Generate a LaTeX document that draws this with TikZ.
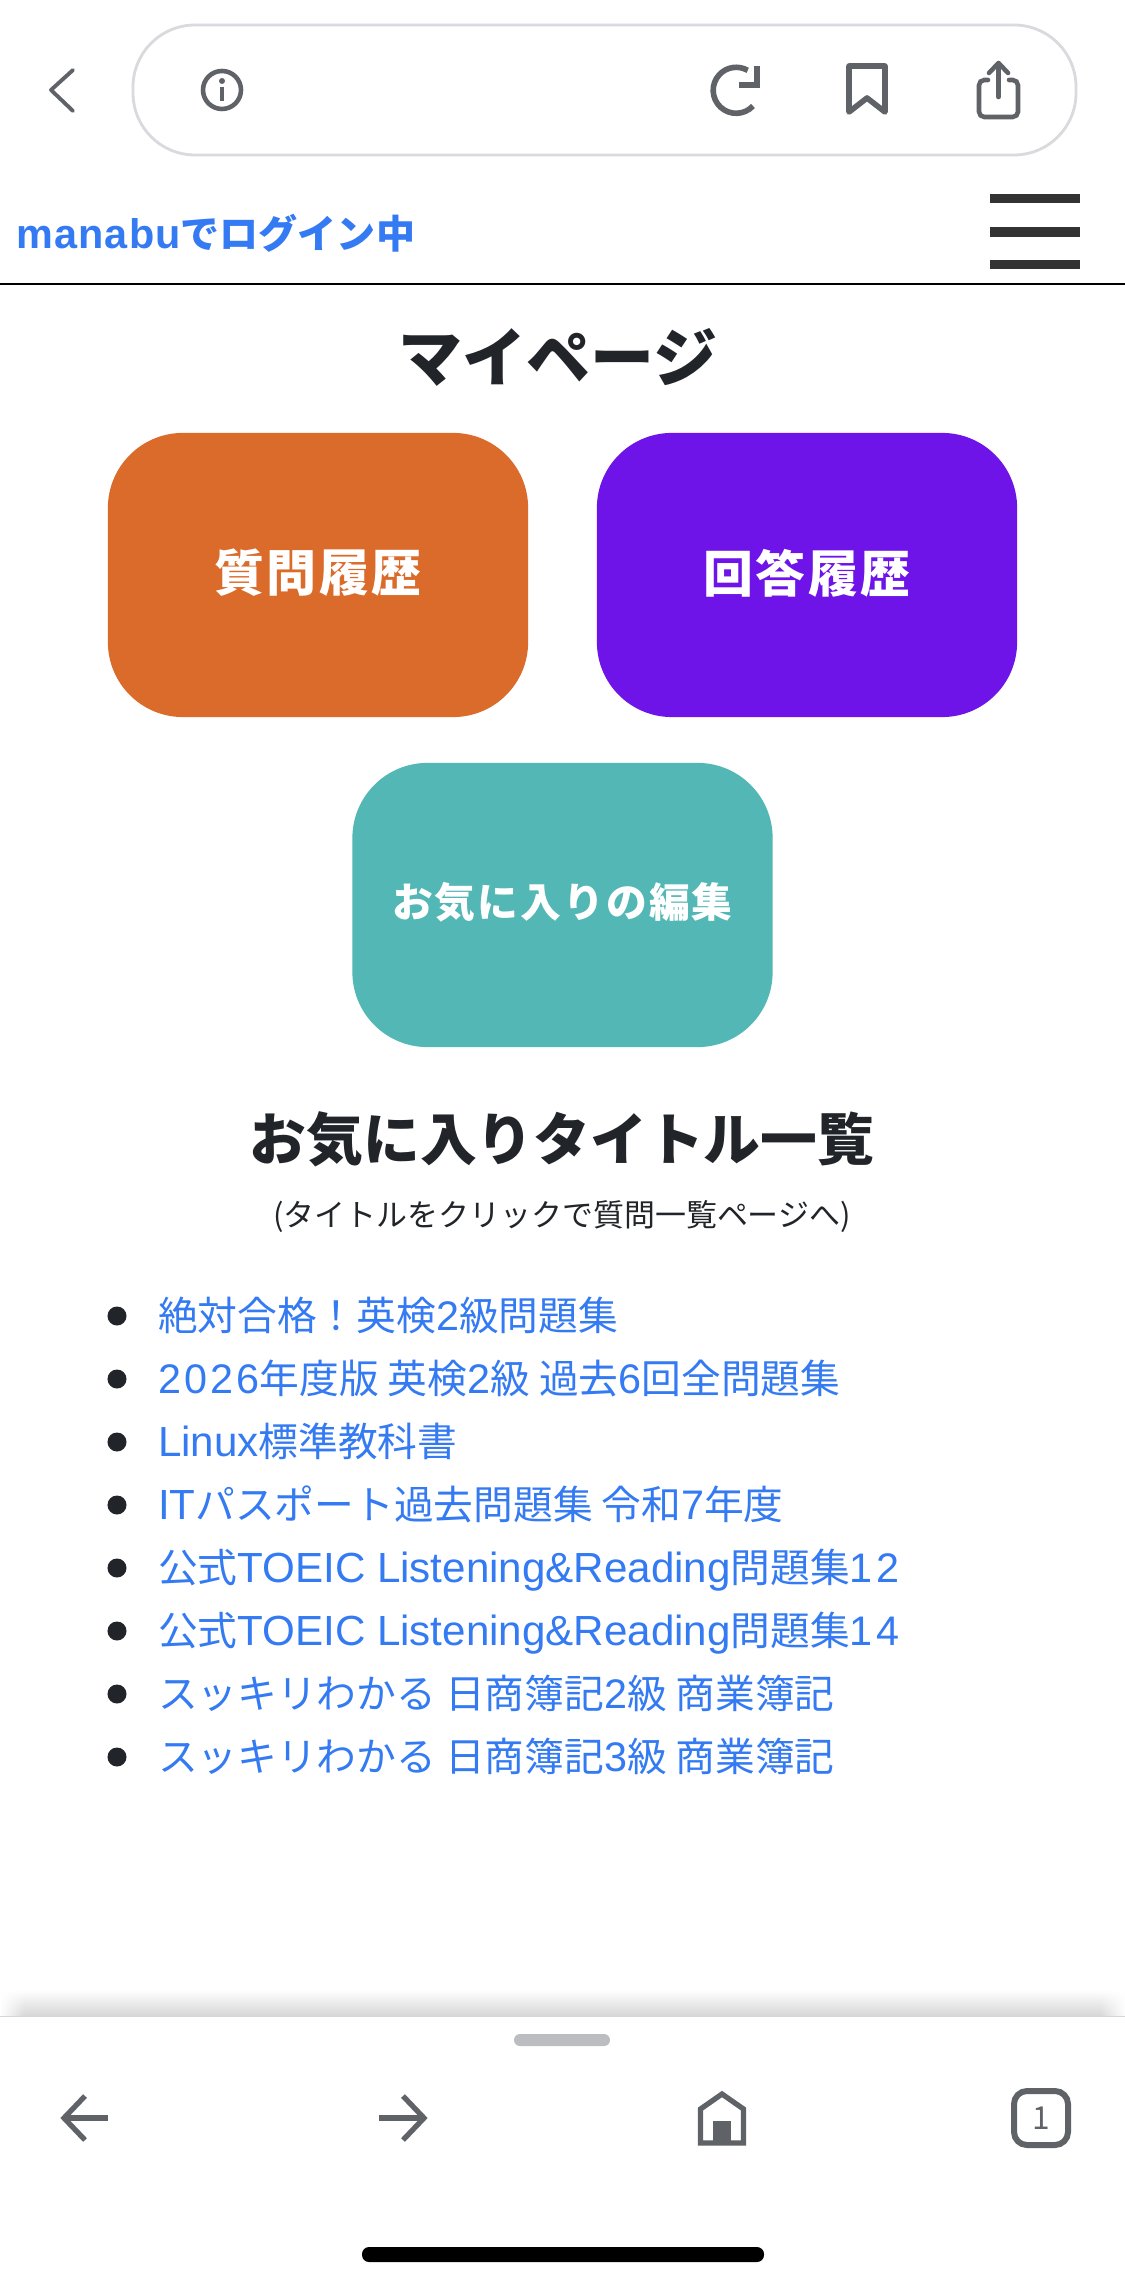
\documentclass[tikz,border=0pt]{standalone}
\usepackage{fontspec}
\usepackage{xcolor}
\usepackage{tikz}
\setmainfont{Noto Sans CJK JP}
\newfontfamily\latfont[Scale=1.06]{Liberation Sans}
\newfontfamily\digfont[Scale=1.04,LetterSpace=8]{Liberation Sans}
\newcommand{\lat}[1]{{\latfont #1}}
\newcommand{\dig}[1]{{\digfont #1}}
\usetikzlibrary{arrows.meta,positioning,calc,fadings}
\definecolor{pgOrange}{RGB}{219,107, 42}
\definecolor{pgPurple}{RGB}{111, 20,232}
\definecolor{pgTeal}  {RGB}{ 82,183,181}
\definecolor{pgBlue}  {RGB}{ 51,122,243}
\definecolor{pgInk}   {RGB}{ 33, 37, 41}
\definecolor{pgIcon}  {RGB}{ 95, 99,104}
\definecolor{pgPill}  {RGB}{218,218,222}
\definecolor{pgGrip}  {RGB}{187,189,193}
\definecolor{pgBurger}{RGB}{ 51, 51, 51}
\begin{document}
\begin{tikzpicture}[
  x=0.01cm,y=-0.01cm,
  every node/.style={inner sep=0pt,outer sep=0pt},
  btn/.style={align=center,minimum width=4.2cm,minimum height=2.84cm,
              rounded corners=0.75cm,text=white},
  btnbig/.style={font=\fontsize{14.2pt}{17pt}\selectfont\bfseries\addfontfeature{LetterSpace=5}},
  btnsmall/.style={font=\fontsize{11.6pt}{14pt}\selectfont\bfseries\addfontfeature{LetterSpace=5}},
  heading/.style={font=\bfseries,text=pgInk,anchor=base},
  item/.style={font=\fontsize{11.3pt}{13pt}\selectfont,text=pgBlue,anchor=base west},
  dot/.style={circle,fill=pgInk,minimum size=0.19cm},
  icon/.style={draw=pgIcon,line width=1.3pt},
  burger/.style={fill=pgBurger},
]
\useasboundingbox (0,0) rectangle (1125,2286);
\fill[white] (0,0) rectangle (1125,2286);
% Browser bar: back chevron, address pill and its icons
\draw[icon,line width=1.1pt,line join=round,line cap=round] (73,70) -- (51,90) -- (73,111);
\draw[pgPill,line width=0.8pt,rounded corners=0.62cm] (133,25) rectangle (1076,155);
\draw[icon] (222,90) circle[radius=19];
\fill[pgIcon] (222,81) circle[radius=3];
\draw[icon] (222,87) -- (222,101);
\draw[icon,line width=1.6pt] (753,106) arc[start angle=43,end angle=300,radius=23];
\draw[icon,line width=1.6pt,line join=miter] (757,66) -- (757,85) -- (739,85);
\draw[icon,line width=1.6pt,line join=round] (849,66) -- (885,66) -- (885,112) -- (867,98) -- (849,112) -- cycle;
\draw[icon,line cap=round,rounded corners=1.5pt] (988,80) -- (979,80) -- (979,117) -- (1018,117) -- (1018,80) -- (1009,80);
\draw[icon,line cap=round,line join=round] (998.5,97) -- (998.5,64);
\draw[icon,line cap=round,line join=round] (989,73) -- (998.5,63) -- (1008,73);
% Page header
\node[font=\fontsize{11.1pt}{13pt}\selectfont\bfseries,text=pgBlue,anchor=base west] (login) at (16,249) {{\latfont\addfontfeature{LetterSpace=3}manabu}でログイン中};
\fill[burger] (990,194) rectangle (1080,203);
\fill[burger] (990,227) rectangle (1080,237);
\fill[burger] (990,260) rectangle (1080,269);
\fill[black] (0,283) rectangle (1125,285);
% Title and the three buttons
\node[heading,font=\fontsize{18.2pt}{20pt}\selectfont\bfseries] (title) at (558,382) {マイページ};
\node[btn,btnbig,fill=pgOrange,text depth=2.5pt] (asked)    at (318,575) {質問履歴};
\node[btn,btnbig,fill=pgPurple,text depth=2.5pt] (answered) at (807,575) {回答履歴};
\node[btn,btnsmall,fill=pgTeal,text depth=3pt] (favedit)  at (562.5,905) {お気に入りの編集};
% Favourites list
\node[heading,font=\fontsize{16.15pt}{19pt}\selectfont\bfseries] (favtitle) at (562,1160) {お気に入りタイトル一覧};
\node[heading,font=\fontsize{8.8pt}{11pt}\selectfont] (favnote) at (562,1226) {(タイトルをクリックで質問一覧ページへ)};
\node[dot] (d1) at (117,1316) {};
\node[dot] (d2) at (117,1379) {};
\node[dot] (d3) at (117,1442) {};
\node[dot] (d4) at (117,1505) {};
\node[dot] (d5) at (117,1568) {};
\node[dot] (d6) at (117,1631) {};
\node[dot] (d7) at (117,1694) {};
\node[dot] (d8) at (117,1757) {};
\node[item] (t1) at (158,1330) {絶対合格！英検\dig{2}級問題集};
\node[item] (t2) at (158,1393) {\dig{2026}年度版 英検\dig{2}級 過去\dig{6}回全問題集};
\node[item] (t3) at (158,1456) {\lat{Linux}標準教科書};
\node[item] (t4) at (158,1519) {\lat{IT}パスポート過去問題集 令和\dig{7}年度};
\node[item] (t5) at (158,1582) {公式\lat{TOEIC Listening\&Reading}問題集\dig{12}};
\node[item] (t6) at (158,1645) {公式\lat{TOEIC Listening\&Reading}問題集\dig{14}};
\node[item] (t7) at (158,1708) {スッキリわかる 日商簿記\dig{2}級 商業簿記};
\node[item] (t8) at (158,1771) {スッキリわかる 日商簿記\dig{3}級 商業簿記};
% Bottom toolbar
\shade[top color=white,bottom color=black!16] (0,1990) rectangle (1125,2016);
\fill[white,path fading=east] (0,1985) rectangle (25,2016);
\fill[white,path fading=west] (1100,1985) rectangle (1125,2016);
\fill[pgGrip,rounded corners=0.06cm] (514,2034) rectangle (610,2046);
\draw[icon,line width=1.5pt,line join=miter] (85,2096) -- (64,2118) -- (85,2140);
\draw[icon,line width=1.7pt] (64,2118) -- (108,2118);
\draw[icon,line width=1.5pt,line join=miter] (403,2096) -- (424,2118) -- (403,2140);
\draw[icon,line width=1.7pt] (379,2118) -- (424,2118);
\draw[icon,line width=1.5pt,line join=miter] (700.5,2143) -- (700.5,2109) -- (722,2094) -- (743.5,2109) -- (743.5,2143) -- cycle;
\fill[pgIcon] (713,2121) rectangle (731,2145);
\draw[icon,line width=1.7pt,rounded corners=0.13cm] (1014,2091) rectangle (1068,2145);
\node[font=\fontsize{9pt}{11pt}\selectfont,text=pgIcon] (tabs) at (1041,2118) {1};
\fill[black,rounded corners=0.07cm] (362,2247) rectangle (764,2262);
\end{tikzpicture}
\end{document}
